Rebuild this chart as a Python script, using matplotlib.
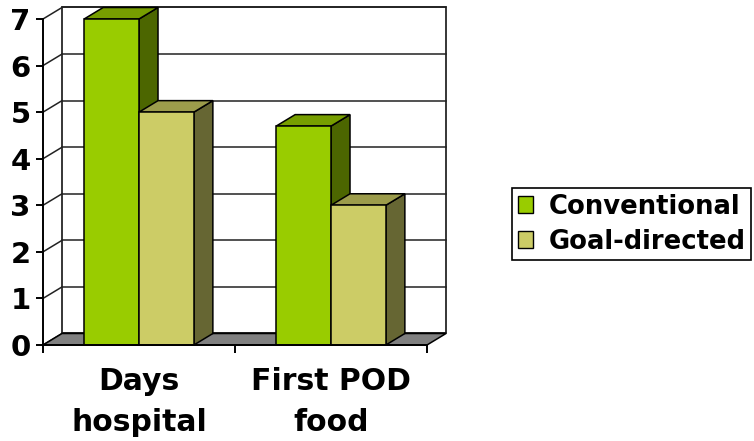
import matplotlib
matplotlib.use("Agg")
import matplotlib.pyplot as plt
from matplotlib.patches import Polygon, Patch

plt.rcParams['font.family'] = ['DejaVu Sans']
plt.rcParams['font.weight'] = 'bold'

# --- data ---
categories = ["Days\nhospital", "First POD\nfood"]
series_names = ["Conventional", "Goal-directed"]
conventional = [7, 4.7]
goal_directed = [5, 3]

# face colours per series: front, top, side
colors = {
    "Conventional": ("#99CC00", "#779E00", "#4C6600"),
    "Goal-directed": ("#CCCC66", "#9C9C4B", "#666633"),
}

y_max = 7
gap = 1.5                       # gap width relative to one bar
bar_w = 1.0 / (len(series_names) + gap)
dx, dy = 0.099, 0.247          # oblique depth offset in data units

fig = plt.figure(figsize=(7.54, 4.41), dpi=100)
ax = fig.add_axes([43 / 754, 1 - 345 / 441, 384 / 754, 326 / 441])
ax.set_xlim(0, len(categories))
ax.set_ylim(0, y_max)
ax.patch.set_visible(False)

LW = 1.1
n = len(categories)

def poly(pts, fc, z, ec="black", lw=LW):
    ax.add_patch(Polygon(pts, closed=True, facecolor=fc, edgecolor=ec,
                         linewidth=lw, zorder=z, clip_on=False, joinstyle='miter'))

# back wall
poly([(dx, dy), (n + dx, dy), (n + dx, y_max + dy), (dx, y_max + dy)], "white", 1)
# horizontal gridlines on back wall + slanted lines on the side wall
for k in range(y_max + 1):
    ax.plot([dx, n + dx], [k + dy, k + dy], color="#222222", lw=LW, zorder=2, clip_on=False)
    ax.plot([0, dx], [k, k + dy], color="#222222", lw=LW, zorder=2, clip_on=False)
# floor
poly([(0, 0), (n, 0), (n + dx, dy), (dx, dy)], "#808080", 3)

# bars
for i in range(n):
    for j, (name, vals) in enumerate(zip(series_names, [conventional, goal_directed])):
        v = vals[i]
        x0 = i + gap * bar_w / 2 + j * bar_w
        x1 = x0 + bar_w
        front, top, side = colors[name]
        z = 4 + i * 3 + j
        poly([(x1, 0), (x1 + dx, dy), (x1 + dx, v + dy), (x1, v)], side, z)
        poly([(x0, v), (x1, v), (x1 + dx, v + dy), (x0 + dx, v + dy)], top, z)
        poly([(x0, 0), (x1, 0), (x1, v), (x0, v)], front, z + 0.5)

# axes: front left line and bottom line
for s in ["top", "right"]:
    ax.spines[s].set_visible(False)
for s in ["left", "bottom"]:
    ax.spines[s].set_linewidth(1.4)
    ax.spines[s].set_zorder(20)

ax.set_yticks(range(y_max + 1))
ax.tick_params(axis="y", length=5, width=1.4, pad=4, labelsize=21)
ax.set_xticks(range(n + 1))
ax.set_xticklabels([])
ax.set_xticks([i + 0.5 for i in range(n)], minor=True)
ax.set_xticklabels(categories, minor=True, fontsize=21.5, fontweight="bold",
                   linespacing=1.5)
ax.tick_params(axis="x", which="major", length=6, width=1.4, direction="out")
ax.tick_params(axis="x", which="minor", length=0, pad=16)
for lbl in ax.get_yticklabels():
    lbl.set_fontweight("bold")

# legend
handles = [Patch(facecolor=colors[name][0], edgecolor="black", linewidth=1)
           for name in series_names]
leg = fig.legend(handles, series_names, loc="upper left",
                 bbox_to_anchor=(512 / 754, 1 - 188 / 441),
                 prop={"size": 18.6, "weight": "bold"},
                 handlelength=0.6, handleheight=0.6, handletextpad=0.6,
                 labelspacing=0.35, borderpad=0.22, borderaxespad=0,
                 fancybox=False, framealpha=1)
leg.get_frame().set_edgecolor("black")
leg.get_frame().set_linewidth(1.2)

fig.savefig("out.png", dpi=100)
